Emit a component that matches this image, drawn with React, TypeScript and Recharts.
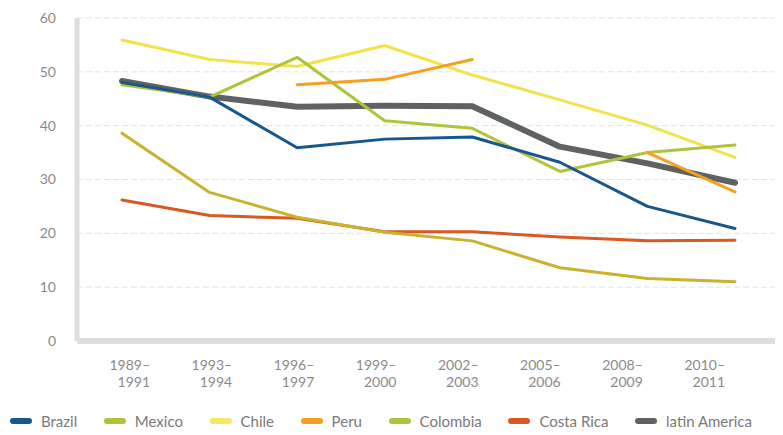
import React from 'react';
import { LineChart, Line, XAxis, YAxis, CartesianGrid, Legend } from 'recharts';

const periods = ['1989–1991', '1993–1994', '1996–1997', '1999–2000', '2002–2003', '2005–2006', '2008–2009', '2010–2011'];

const brazil = [48.0, 45.3, 35.9, 37.5, 37.9, 33.2, 25.0, 20.9];
const mexico = [47.6, 45.3, 52.7, 40.9, 39.5, 31.5, 35.0, 36.4];
const chile = [38.6, 27.6, 23.0, 20.2, 18.6, 13.6, 11.6, 11.0];
const peru = [null, null, 47.6, 48.6, 52.3, null, 35.0, 27.7];
const colombia = [55.9, 52.3, 51.0, 54.9, 49.4, 44.8, 40.1, 34.1];
const costaRica = [26.2, 23.3, 22.8, 20.3, 20.3, 19.3, 18.6, 18.7];
const latinAmerica = [48.3, 45.4, 43.5, 43.7, 43.6, 36.1, 33.0, 29.4];

const yTicks = [0, 10, 20, 30, 40, 50, 60];

// line colour vs the swatch shown in the legend (they differ in the source)
const series = [
  { key: 'latinAmerica', name: 'latin America', values: latinAmerica, color: '#5e6261', swatch: '#5e6261', width: 6 },
  { key: 'costaRica', name: 'Costa Rica', values: costaRica, color: '#d85a22', swatch: '#d85a22', width: 3 },
  { key: 'chile', name: 'Chile', values: chile, color: '#c9b22c', swatch: '#f5e95e', width: 3 },
  { key: 'colombia', name: 'Colombia', values: colombia, color: '#f1e44a', swatch: '#b3c23c', width: 3 },
  { key: 'mexico', name: 'Mexico', values: mexico, color: '#b3c23c', swatch: '#b3c23c', width: 3 },
  { key: 'brazil', name: 'Brazil', values: brazil, color: '#17578c', swatch: '#17578c', width: 3 },
  { key: 'peru', name: 'Peru', values: peru, color: '#f5a021', swatch: '#f5a021', width: 3 },
];

const legendOrder = ['brazil', 'mexico', 'chile', 'peru', 'colombia', 'costaRica', 'latinAmerica'];

const data = periods.map((period, i) => {
  const row: Record<string, any> = { period };
  series.forEach(s => { row[s.key] = s.values[i]; });
  return row;
});

const PeriodTick = (props: any) => {
  const { x, y, payload } = props;
  const [from, to] = String(payload.value).split('–');
  return (
    <text x={x} y={y} textAnchor="end" fill="#8a8a8a" fontSize={14}>
      <tspan x={x} dy={20}>{from}–</tspan>
      <tspan x={x} dy={17}>{to}</tspan>
    </text>
  );
};

const renderLegend = () => (
  <div style={{ display: 'flex', justifyContent: 'space-between', alignItems: 'center', height: 22, lineHeight: '22px', paddingLeft: 10, paddingRight: 25, color: '#7a7a7a', fontSize: 15 }}>
    {legendOrder.map(k => {
      const s = series.find(x => x.key === k)!;
      return (
        <div key={k} style={{ display: 'flex', alignItems: 'center' }}>
          <span style={{ display: 'inline-block', width: 22, height: 6, borderRadius: 3, background: s.swatch, marginRight: 9 }} />
          <span>{s.name}</span>
        </div>
      );
    })}
  </div>
);

const App: React.FC = () => {
  return (
    <div style={{ margin: -8, width: 783, height: 435, background: '#fff', fontFamily: 'Lato, "Open Sans", sans-serif' }}>
      <LineChart width={783} height={435} data={data} margin={{ top: 18, right: 6, bottom: 0, left: 0 }}>
        <CartesianGrid vertical={false} stroke="#e3e3e3" strokeDasharray="6 3" />
        <XAxis
          dataKey="period"
          padding={{ left: 45, right: 42 }}
          axisLine={{ stroke: '#dedede', strokeWidth: 6 }}
          tickLine={false}
          tick={false}
          height={7}
        />
        <XAxis
          xAxisId="marks"
          dataKey="period"
          padding={{ left: 87, right: 0 }}
          axisLine={false}
          tick={false}
          tickLine={{ stroke: '#8a8a8a' }}
          tickSize={7}
          interval={0}
          height={8}
        />
        <XAxis
          xAxisId="labels"
          dataKey="period"
          padding={{ left: 73, right: 52 }}
          axisLine={false}
          tickLine={false}
          tickSize={0}
          tick={<PeriodTick />}
          interval={0}
          height={57}
        />
        <YAxis
          domain={[0, 60]}
          ticks={yTicks}
          width={77}
          axisLine={{ stroke: '#dedede', strokeWidth: 5 }}
          tickLine={false}
          tickSize={0}
          tickMargin={21}
          tick={{ fill: '#8a8a8a', fontSize: 14 }}
        />
        {series.map(s => (
          <Line
            key={s.key}
            dataKey={s.key}
            name={s.name}
            stroke={s.color}
            strokeWidth={s.width}
            strokeLinejoin="round"
            strokeLinecap="round"
            dot={false}
            activeDot={false}
            type="linear"
            isAnimationActive={false}
          />
        ))}
        <Legend verticalAlign="bottom" height={22} content={renderLegend} wrapperStyle={{ bottom: 3 }} />
      </LineChart>
    </div>
  );
};

export default App;
